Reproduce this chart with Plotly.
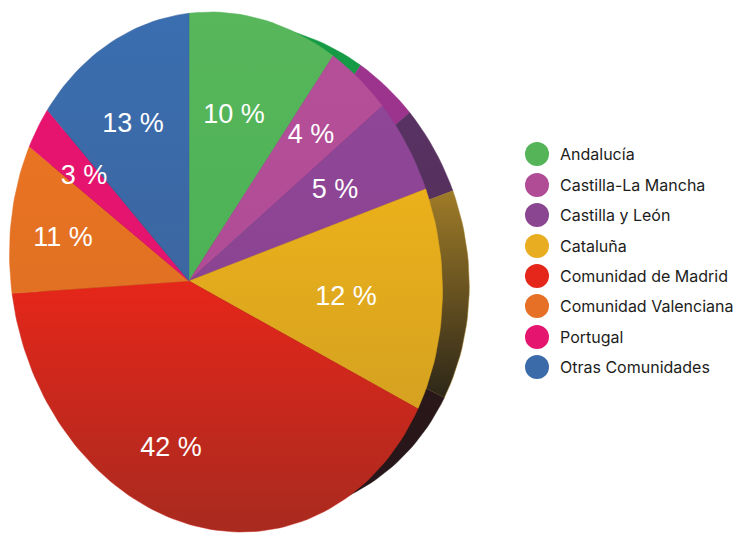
import numpy as np
import plotly.graph_objects as go

categories = ["Andalucía", "Castilla-La Mancha", "Castilla y León", "Cataluña",
              "Comunidad de Madrid", "Comunidad Valenciana", "Portugal", "Otras Comunidades"]
values = [10, 4, 5, 12, 42, 11, 3, 13]
labels = ["10 %", "4 %", "5 %", "12 %", "42 %", "11 %", "3 %", "13 %"]

legend_colors = ["#55b458", "#b04c96", "#8a4690", "#e8ad20", "#e5261b", "#e57026", "#e5156f", "#3b6ba8"]
face_top = ["#58b65b", "#b54f98", "#92479a", "#fdbc15", "#e6261a", "#f07620", "#e8126f", "#3a6eb0"]
face_bottom = ["#41ae50", "#ac4a94", "#84418a", "#c99a24", "#a82a1f", "#d56c26", "#e0186e", "#3e5f92"]
mid_color = ["#4db256", "#b14c96", "#8b4492", "#e3ab1c", "#c8281c", "#e37123", "#e4156f", "#3c67a1"]
side_top = ["#159a45", "#9c348d", "#583263", "#a17d28", "#2c1a18", "#2c1a18", "#2c1a18", "#2c1a18"]
side_bottom = ["#159a45", "#9c348d", "#533058", "#2c2618", "#26151a", "#26151a", "#26151a", "#26151a"]

APEX = (189.0, 281.0)
CX, CY, RX, RY, SHEAR = 226.0, 272.0, 216.0, 260.0, 0.06
BACK_CX, BACK_CY, BACK_RX, BACK_RY = 253.0, 269.0, 216.0, 245.0


def rim_param(frac):
    th = 2 * np.pi * frac
    dd = 4.0 - 9.7 * np.cos(th) + 2.75 * np.sin(th)
    return th + np.radians(dd)


def rim(frac, cx, cy, rx, ry):
    a = rim_param(frac)
    y = cy - ry * np.cos(a)
    x = cx + rx * np.sin(a) + SHEAR * (y - CY)
    return x, y


def wedge(f0, f1, apex, cx, cy, rx, ry):
    fr = np.linspace(f0, f1, max(8, int((f1 - f0) * 240)))
    x, y = rim(fr, cx, cy, rx, ry)
    return np.r_[apex[0], x, apex[0]], np.r_[apex[1], y, apex[1]]


def grad(c_top, c_bot, y0, y1):
    return dict(type="vertical", start=y0, stop=y1, colorscale=[[0, c_top], [1, c_bot]])


total = sum(values)
cum = np.r_[0, np.cumsum(values)] / total

fig = go.Figure()

# extruded side of the pie
for i, cat in enumerate(categories):
    bx, by = wedge(cum[i], cum[i + 1], (APEX[0] + 27, APEX[1]), BACK_CX, BACK_CY, BACK_RX, BACK_RY)
    y0, y1 = (186, 400) if i == 3 else (float(by.min()), float(by.max()))
    fig.add_trace(go.Scatter(x=bx, y=by, mode="lines", fill="toself", line=dict(width=0.5, color=side_top[i]),
                             fillgradient=grad(side_top[i], side_bottom[i], y0, y1),
                             hoverinfo="skip", showlegend=False))

# front face of the pie
for i, cat in enumerate(categories):
    fx, fy = wedge(cum[i], cum[i + 1], APEX, CX, CY, RX, RY)
    fig.add_trace(go.Scatter(x=fx, y=fy, mode="lines", fill="toself", name=cat,
                             line=dict(width=0.5, color=mid_color[i]),
                             fillgradient=grad(face_top[i], face_bottom[i], float(fy.min()) if i == 4 else 12, 533),
                             hoverinfo="name", showlegend=False))

# percentage labels
label_x = [234, 311, 335, 346, 171, 63, 84, 133]
label_y = [116, 136, 191, 298, 449, 239, 177, 125]
fig.add_trace(go.Scatter(x=label_x, y=label_y, mode="text", text=labels,
                         textposition="middle center",
                         textfont=dict(family="Liberation Sans", size=27, color="white"),
                         hoverinfo="skip", showlegend=False))

# legend
leg_y = [154, 185, 215, 246, 276, 306, 337, 367]
fig.add_trace(go.Scatter(x=[537] * 8, y=leg_y, mode="markers",
                         marker=dict(size=24, color=legend_colors, line=dict(width=0)),
                         hoverinfo="skip", showlegend=False))
fig.add_trace(go.Scatter(x=[560] * 8, y=[v + 2 for v in leg_y], mode="text", text=categories,
                         textposition="middle right",
                         textfont=dict(family="Inter", size=16, color="#1d1d1b"),
                         hoverinfo="skip", showlegend=False))

fig.update_layout(width=734, height=533, margin=dict(l=0, r=0, t=0, b=0),
                  paper_bgcolor="white", plot_bgcolor="white",
                  xaxis=dict(range=[0, 734], visible=False, fixedrange=True),
                  yaxis=dict(range=[533, 0], visible=False, fixedrange=True))
fig.write_html("out.html", config={"displayModeBar": False},
               post_script="document.body.style.margin='0';document.documentElement.style.overflow='hidden';")
